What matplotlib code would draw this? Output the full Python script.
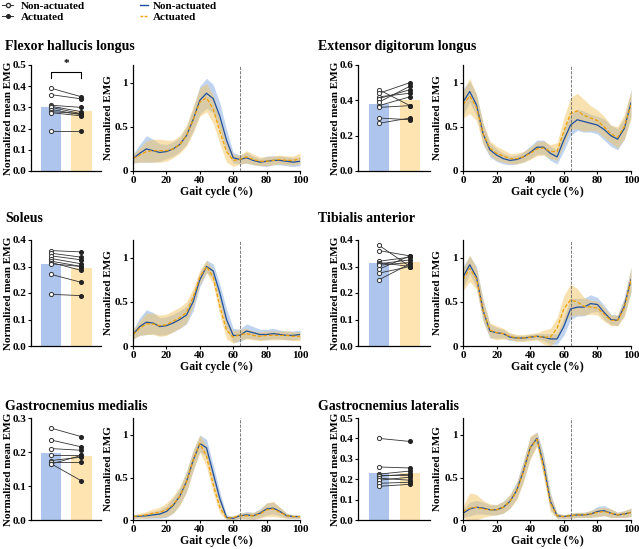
import numpy as np
import matplotlib
matplotlib.use('Agg')
import matplotlib.pyplot as plt
from matplotlib.lines import Line2D

plt.rcParams['font.family'] = ['Liberation Serif', 'DejaVu Serif']
plt.rcParams['font.weight'] = 'bold'
plt.rcParams['axes.labelweight'] = 'bold'

W, H = 639, 549

## gait cycle sample points (%)
GAIT = [0, 4, 8, 12, 16, 20, 24, 28, 32, 36, 40, 44, 48, 52, 56, 60, 64, 68, 72, 76, 80, 84, 88, 92, 96, 100]
TOE_OFF = 64

## Flexor hallucis longus
FHL_NA_PTS = [0.39, 0.36, 0.31, 0.305, 0.30, 0.29, 0.28, 0.275, 0.19]
FHL_A_PTS = [0.35, 0.34, 0.30, 0.28, 0.27, 0.265, 0.27, 0.26, 0.19]
FHL_BARS = [0.302, 0.284]
FHL_NA_MEAN = [0.14, 0.20, 0.25, 0.23, 0.21, 0.22, 0.25, 0.30, 0.40, 0.58, 0.80, 0.88, 0.82, 0.62, 0.35, 0.15, 0.13, 0.15, 0.12, 0.10, 0.11, 0.12, 0.12, 0.11, 0.10, 0.11]
FHL_NA_SD = [0.05, 0.10, 0.15, 0.13, 0.10, 0.08, 0.08, 0.08, 0.10, 0.13, 0.16, 0.17, 0.16, 0.15, 0.12, 0.06, 0.05, 0.06, 0.05, 0.04, 0.06, 0.05, 0.05, 0.05, 0.05, 0.05]
FHL_A_MEAN = [0.14, 0.18, 0.22, 0.23, 0.23, 0.23, 0.25, 0.30, 0.40, 0.58, 0.78, 0.83, 0.70, 0.45, 0.22, 0.12, 0.13, 0.16, 0.13, 0.11, 0.11, 0.12, 0.13, 0.12, 0.12, 0.14]
FHL_A_SD = [0.05, 0.08, 0.12, 0.13, 0.13, 0.12, 0.10, 0.10, 0.12, 0.15, 0.16, 0.16, 0.16, 0.14, 0.12, 0.07, 0.05, 0.07, 0.06, 0.05, 0.05, 0.05, 0.05, 0.05, 0.05, 0.06]

## Extensor digitorum longus
EDL_NA_PTS = [0.46, 0.44, 0.42, 0.41, 0.39, 0.37, 0.36, 0.30, 0.27]
EDL_A_PTS = [0.37, 0.50, 0.44, 0.46, 0.48, 0.42, 0.37, 0.29, 0.30]
EDL_BARS = [0.378, 0.403]
EDL_NA_MEAN = [0.78, 0.90, 0.75, 0.42, 0.24, 0.18, 0.14, 0.12, 0.13, 0.16, 0.21, 0.27, 0.27, 0.20, 0.16, 0.35, 0.52, 0.58, 0.56, 0.54, 0.52, 0.47, 0.40, 0.36, 0.48, 0.77]
EDL_NA_SD = [0.15, 0.12, 0.12, 0.12, 0.08, 0.07, 0.06, 0.05, 0.05, 0.06, 0.07, 0.08, 0.08, 0.08, 0.08, 0.12, 0.12, 0.12, 0.12, 0.10, 0.10, 0.12, 0.12, 0.12, 0.12, 0.15]
EDL_A_MEAN = [0.75, 0.85, 0.72, 0.42, 0.26, 0.20, 0.17, 0.14, 0.14, 0.16, 0.20, 0.25, 0.26, 0.22, 0.22, 0.45, 0.65, 0.68, 0.63, 0.60, 0.57, 0.50, 0.42, 0.38, 0.50, 0.75]
EDL_A_SD = [0.15, 0.20, 0.15, 0.12, 0.08, 0.08, 0.07, 0.06, 0.06, 0.06, 0.07, 0.08, 0.08, 0.08, 0.10, 0.15, 0.18, 0.20, 0.18, 0.14, 0.12, 0.12, 0.10, 0.12, 0.14, 0.16]

## Soleus
SOL_NA_PTS = [0.36, 0.35, 0.34, 0.33, 0.32, 0.315, 0.31, 0.27, 0.195]
SOL_A_PTS = [0.355, 0.335, 0.325, 0.31, 0.30, 0.285, 0.30, 0.24, 0.19]
SOL_BARS = [0.308, 0.293]
SOL_NA_MEAN = [0.13, 0.22, 0.27, 0.26, 0.22, 0.23, 0.26, 0.30, 0.35, 0.50, 0.75, 0.90, 0.85, 0.60, 0.30, 0.12, 0.12, 0.17, 0.15, 0.13, 0.13, 0.14, 0.13, 0.12, 0.12, 0.13]
SOL_NA_SD = [0.05, 0.10, 0.14, 0.12, 0.10, 0.10, 0.10, 0.10, 0.10, 0.10, 0.08, 0.07, 0.08, 0.10, 0.12, 0.08, 0.07, 0.08, 0.07, 0.06, 0.06, 0.06, 0.05, 0.05, 0.05, 0.05]
SOL_A_MEAN = [0.13, 0.20, 0.25, 0.25, 0.23, 0.24, 0.28, 0.32, 0.38, 0.55, 0.78, 0.90, 0.78, 0.45, 0.18, 0.10, 0.13, 0.14, 0.12, 0.11, 0.12, 0.12, 0.12, 0.12, 0.11, 0.11]
SOL_A_SD = [0.05, 0.08, 0.12, 0.12, 0.12, 0.12, 0.12, 0.12, 0.12, 0.10, 0.08, 0.07, 0.08, 0.10, 0.10, 0.07, 0.06, 0.06, 0.05, 0.05, 0.05, 0.05, 0.05, 0.05, 0.05, 0.05]

## Tibialis anterior
TA_NA_PTS = [0.38, 0.36, 0.32, 0.315, 0.31, 0.305, 0.29, 0.275, 0.25]
TA_A_PTS = [0.30, 0.34, 0.335, 0.30, 0.325, 0.315, 0.34, 0.30, 0.31]
TA_BARS = [0.312, 0.318]
TA_NA_MEAN = [0.78, 0.92, 0.78, 0.40, 0.17, 0.15, 0.14, 0.10, 0.09, 0.09, 0.10, 0.11, 0.10, 0.08, 0.08, 0.22, 0.42, 0.44, 0.44, 0.48, 0.47, 0.38, 0.30, 0.29, 0.45, 0.75]
TA_NA_SD = [0.12, 0.10, 0.12, 0.12, 0.08, 0.06, 0.05, 0.04, 0.03, 0.03, 0.03, 0.03, 0.04, 0.06, 0.06, 0.10, 0.12, 0.10, 0.10, 0.10, 0.08, 0.08, 0.06, 0.06, 0.10, 0.14]
TA_A_MEAN = [0.75, 0.88, 0.76, 0.40, 0.18, 0.15, 0.14, 0.11, 0.09, 0.09, 0.10, 0.11, 0.10, 0.10, 0.20, 0.42, 0.52, 0.50, 0.45, 0.44, 0.43, 0.36, 0.29, 0.29, 0.43, 0.75]
TA_A_SD = [0.12, 0.15, 0.12, 0.12, 0.08, 0.08, 0.06, 0.04, 0.04, 0.04, 0.04, 0.04, 0.08, 0.10, 0.12, 0.15, 0.18, 0.15, 0.10, 0.08, 0.08, 0.08, 0.06, 0.06, 0.10, 0.14]

## Gastrocnemius medialis
GM_NA_PTS = [0.27, 0.235, 0.21, 0.19, 0.175, 0.17, 0.165, 0.165]
GM_A_PTS = [0.245, 0.215, 0.205, 0.19, 0.185, 0.17, 0.19, 0.115]
GM_BARS = [0.196, 0.189]
GM_NA_MEAN = [0.04, 0.045, 0.05, 0.06, 0.07, 0.10, 0.17, 0.28, 0.45, 0.70, 0.90, 0.85, 0.55, 0.25, 0.03, 0.02, 0.05, 0.06, 0.05, 0.08, 0.13, 0.14, 0.10, 0.05, 0.04, 0.04]
GM_NA_SD = [0.02, 0.02, 0.03, 0.04, 0.05, 0.07, 0.09, 0.10, 0.12, 0.12, 0.10, 0.10, 0.10, 0.08, 0.03, 0.02, 0.03, 0.04, 0.04, 0.05, 0.07, 0.07, 0.05, 0.03, 0.02, 0.02]
GM_A_MEAN = [0.04, 0.05, 0.06, 0.08, 0.09, 0.12, 0.18, 0.28, 0.45, 0.70, 0.90, 0.75, 0.42, 0.15, 0.02, 0.03, 0.05, 0.05, 0.05, 0.07, 0.12, 0.13, 0.09, 0.05, 0.04, 0.04]
GM_A_SD = [0.02, 0.03, 0.04, 0.05, 0.06, 0.08, 0.10, 0.11, 0.12, 0.12, 0.10, 0.12, 0.10, 0.07, 0.02, 0.02, 0.03, 0.04, 0.04, 0.05, 0.08, 0.09, 0.06, 0.03, 0.02, 0.02]

## Gastrocnemius lateralis
GL_NA_PTS = [0.40, 0.26, 0.225, 0.22, 0.215, 0.205, 0.195, 0.18, 0.165]
GL_A_PTS = [0.385, 0.255, 0.24, 0.22, 0.225, 0.195, 0.21, 0.185, 0.175]
GL_BARS = [0.229, 0.229]
GL_NA_MEAN = [0.08, 0.13, 0.15, 0.14, 0.12, 0.12, 0.15, 0.22, 0.35, 0.58, 0.85, 0.96, 0.65, 0.22, 0.05, 0.04, 0.05, 0.06, 0.06, 0.07, 0.10, 0.11, 0.08, 0.06, 0.07, 0.09]
GL_NA_SD = [0.05, 0.08, 0.08, 0.07, 0.06, 0.06, 0.07, 0.08, 0.10, 0.12, 0.12, 0.08, 0.12, 0.10, 0.03, 0.02, 0.03, 0.03, 0.03, 0.04, 0.06, 0.06, 0.05, 0.03, 0.04, 0.05]
GL_A_MEAN = [0.10, 0.14, 0.15, 0.13, 0.12, 0.12, 0.15, 0.22, 0.34, 0.57, 0.85, 0.95, 0.62, 0.20, 0.05, 0.04, 0.05, 0.06, 0.06, 0.07, 0.09, 0.10, 0.08, 0.06, 0.07, 0.09]
GL_A_SD = [0.06, 0.18, 0.15, 0.10, 0.07, 0.06, 0.07, 0.08, 0.10, 0.12, 0.14, 0.08, 0.12, 0.10, 0.03, 0.02, 0.03, 0.03, 0.03, 0.04, 0.05, 0.05, 0.05, 0.03, 0.04, 0.05]

BAR_COLS = ['#aec5ee', '#fde4b0']
LINE_NA, LINE_A = '#1f4f9c', '#f0a000'
BAND_NA, BAND_A = '#8fb2e2', '#f3c463'

def px_axes(fig, l, t, r, b):
    return fig.add_axes([l/W, 1-b/H, (r-l)/W, (b-t)/H])

def style(ax):
    for s in ['top', 'right']: ax.spines[s].set_visible(False)
    for s in ['left', 'bottom']: ax.spines[s].set_linewidth(0.9)
    ax.tick_params(labelsize=8, length=2.5, width=0.8, pad=1)
    for lab in ax.get_xticklabels() + ax.get_yticklabels(): lab.set_fontweight('bold')

def drawBar(ax, na, a, bars, ymax, step, labx, sig=False):
    ax.bar([0, 1], bars, width=0.67, color=BAR_COLS)
    for y0, y1 in zip(na, a):
        ax.plot([0, 1], [y0, y1], color='#333333', lw=0.6, zorder=3)
    ax.plot(np.zeros(len(na)), na, 'o', ms=3, mfc='white', mec='#333333', mew=0.7, zorder=4)
    ax.plot(np.ones(len(a)), a, 'o', ms=2.6, mfc='#222222', mec='#222222', zorder=4)
    ax.set_xlim(-0.68, 1.65);  ax.set_ylim(0, ymax)
    ax.set_xticks([])
    ticks = np.arange(0, ymax + 1e-9, step)
    ax.set_yticks(ticks)
    ax.set_yticklabels(['%.1f' % v for v in ticks])
    ax.set_ylabel('Normalized mean EMG', fontsize=8)
    ax.yaxis.set_label_coords(labx, 0.5)
    style(ax)
    if sig:
        yb = ymax * 0.93
        ax.plot([0, 0, 1, 1], [yb - 0.025, yb, yb, yb - 0.025], color='black', lw=0.8, clip_on=False)
        ax.text(0.5, yb + 0.02, '*', ha='center', va='bottom', fontsize=8, clip_on=False)

def drawCurve(ax, na_m, na_s, a_m, a_s, labx):
    x = np.array(GAIT)
    na_m, na_s, a_m, a_s = map(np.array, (na_m, na_s, a_m, a_s))
    ax.fill_between(x, na_m - na_s, na_m + na_s, color=BAND_NA, alpha=0.55, lw=0)
    ax.fill_between(x, a_m - a_s, a_m + a_s, color=BAND_A, alpha=0.5, lw=0)
    ax.plot(x, na_m, color=LINE_NA, lw=0.9)
    ax.plot(x, a_m, color=LINE_A, lw=0.9, dashes=(3, 1.5))
    ax.axvline(TOE_OFF, color='#666666', lw=0.6, ls='--')
    ax.set_xlim(0, 100);  ax.set_ylim(0, 1.2)
    ax.set_xticks(range(0, 101, 20))
    ax.set_yticks([0, 0.5, 1]);  ax.set_yticklabels(['0', '0.5', '1'])
    ax.set_xlabel('Gait cycle (%)', fontsize=8.5, labelpad=1)
    ax.set_ylabel('Normalized EMG', fontsize=8)
    ax.yaxis.set_label_coords(labx, 0.5)
    style(ax)

fig = plt.figure(figsize=(W/100, H/100), dpi=100)

rows = [(65, 171), (240, 346), (418, 520)]
titleY = [47, 218, 407]
panels = [
    ('Flexor hallucis longus', 0, 0, FHL_NA_PTS, FHL_A_PTS, FHL_BARS, 0.5, 0.1, True, FHL_NA_MEAN, FHL_NA_SD, FHL_A_MEAN, FHL_A_SD),
    ('Extensor digitorum longus', 1, 0, EDL_NA_PTS, EDL_A_PTS, EDL_BARS, 0.6, 0.2, False, EDL_NA_MEAN, EDL_NA_SD, EDL_A_MEAN, EDL_A_SD),
    ('Soleus', 0, 1, SOL_NA_PTS, SOL_A_PTS, SOL_BARS, 0.4, 0.1, False, SOL_NA_MEAN, SOL_NA_SD, SOL_A_MEAN, SOL_A_SD),
    ('Tibialis anterior', 1, 1, TA_NA_PTS, TA_A_PTS, TA_BARS, 0.4, 0.1, False, TA_NA_MEAN, TA_NA_SD, TA_A_MEAN, TA_A_SD),
    ('Gastrocnemius medialis', 0, 2, GM_NA_PTS, GM_A_PTS, GM_BARS, 0.3, 0.1, False, GM_NA_MEAN, GM_NA_SD, GM_A_MEAN, GM_A_SD),
    ('Gastrocnemius lateralis', 1, 2, GL_NA_PTS, GL_A_PTS, GL_BARS, 0.5, 0.1, False, GL_NA_MEAN, GL_NA_SD, GL_A_MEAN, GL_A_SD),
]
## (bar left, bar right), (line left, line right), title x, bar ylabel right edge, line ylabel right edge
cols = [((31, 101), (133, 300), 5, 13, 113), ((358, 430), (463, 631), 318, 340, 442)]

for name, c, r, na, a, bars, ymax, step, sig, nm, ns, am, asd in panels:
    (bl, br), (ll, lr), tx, bly, lly = cols[c]
    t, b = rows[r]
    axb = px_axes(fig, bl, t, br, b)
    drawBar(axb, na, a, bars, ymax, step, (bly - bl)/(br - bl), sig)
    axl = px_axes(fig, ll, t, lr, b)
    drawCurve(axl, nm, ns, am, asd, (lly - ll)/(lr - ll))
    fig.text(tx/W, 1-titleY[r]/H, name, fontsize=10, fontweight='bold', ha='left', va='center')

## legends
h1 = [Line2D([], [], color='#333333', lw=0.7, marker='o', ms=3, mfc='white', mec='#333333'),
      Line2D([], [], color='#333333', lw=0.7, marker='o', ms=2.6, mfc='#222222', mec='#222222')]
h2 = [Line2D([], [], color=LINE_NA, lw=1.0),
      Line2D([], [], color=LINE_A, lw=1.0, dashes=(2, 1))]
prop = {'family': ['Liberation Serif'], 'weight': 'bold', 'size': 8}
fig.legend(h1, ['Non-actuated', 'Actuated'], loc='upper left', bbox_to_anchor=(2/W, 1 - 1/H), frameon=False,
           handlelength=1.0, handletextpad=0.7, labelspacing=0.1, borderaxespad=0.0, borderpad=0.0, prop=prop)
fig.legend(h2, ['Non-actuated', 'Actuated'], loc='upper left', bbox_to_anchor=(140/W, 1 - 1/H), frameon=False,
           handlelength=0.75, handletextpad=0.4, labelspacing=0.1, borderaxespad=0.0, borderpad=0.0, prop=prop)

fig.savefig('out.png', dpi=100)
